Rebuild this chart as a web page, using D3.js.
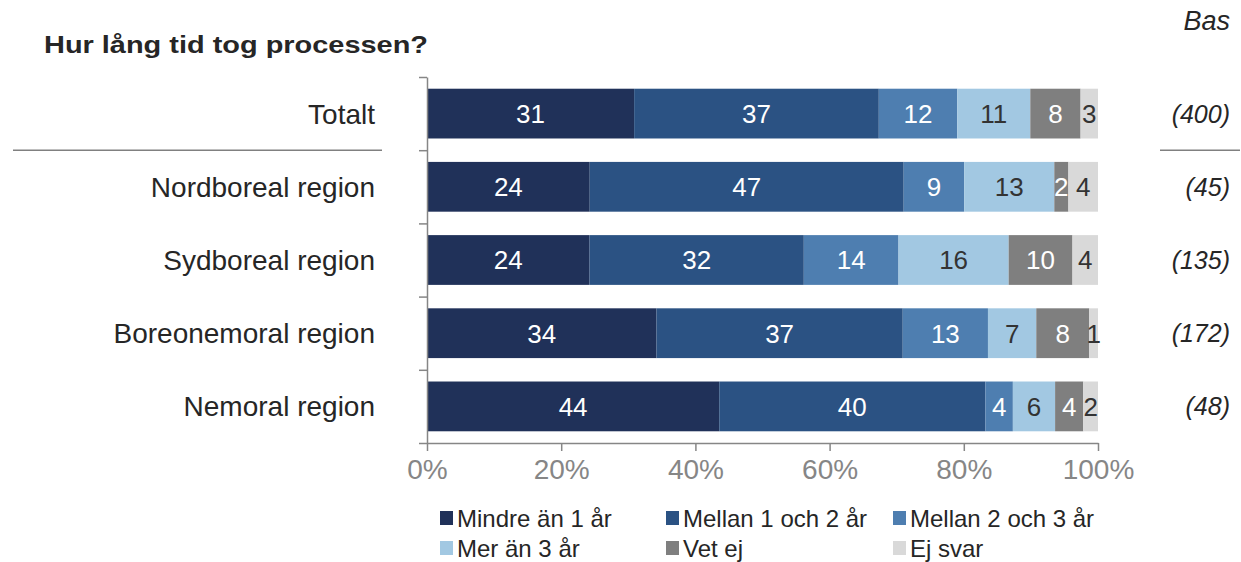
<!doctype html>
<html lang="sv">
<head>
<meta charset="utf-8">
<title>Hur lång tid tog processen?</title>
<style>
  body { margin: 0; background: #fff; }
  svg { display: block; font-family: "Liberation Sans", Arial, sans-serif; }
  .axis path, .axis line { stroke: #868686; stroke-width: 1.5px; }
  .axis text { fill: #868686; }
</style>
</head>
<body>
<svg width="1241" height="562"></svg>
<script src="https://cdn.jsdelivr.net/npm/d3@7"></script>
<script>

// data
var categories = ["Totalt", "Nordboreal region", "Sydboreal region", "Boreonemoral region", "Nemoral region"];
var bases = ["(400)", "(45)", "(135)", "(172)", "(48)"];
var seriesNames = ["Mindre än 1 år", "Mellan 1 och 2 år", "Mellan 2 och 3 år", "Mer än 3 år", "Vet ej", "Ej svar"];
var mindre1 = [30.9, 24.2, 24.2, 34.2, 43.6];
var mellan12 = [36.5, 46.7, 31.9, 36.7, 39.7];
var mellan23 = [11.7, 9.0, 14.1, 12.7, 4.1];
var mer3 = [10.9, 13.4, 16.4, 7.2, 6.3];
var vetEj = [7.5, 2.1, 9.5, 7.9, 4.2];
var ejSvar = [2.6, 4.4, 3.8, 1.3, 2.2];
var xTicks = [0, 0.2, 0.4, 0.6, 0.8, 1];

var colors = ["#203159", "#2b5283", "#4e7eb0", "#a2c8e2", "#7f7f7f", "#d9d9d9"];
var labelColors = ["#fff", "#fff", "#fff", "#333", "#fff", "#333"];

var seriesValues = [mindre1, mellan12, mellan23, mer3, vetEj, ejSvar];
var rows = categories.map(function(c, i) {
  var r = { cat: c };
  seriesNames.forEach(function(s, j) { r[s] = seriesValues[j][i]; });
  return r;
});

var svg = d3.select("svg");

var x = d3.scaleLinear().domain([0, 1]).range([427, 1098]);
var y = d3.scaleBand().domain(categories).range([77, 443]).paddingInner(0.32).paddingOuter(0.16);
var yEdge = d3.scaleLinear().domain([0, categories.length]).range([77, 443]);
var z = d3.scaleOrdinal().domain(seriesNames).range(colors);

var stack = d3.stack().keys(seriesNames).offset(d3.stackOffsetExpand);
var layers = stack(rows);

// title
svg.append("text")
    .attr("x", 44).attr("y", 53)
    .attr("textLength", 384).attr("lengthAdjust", "spacingAndGlyphs")
    .style("font-size", "24px").style("font-weight", "bold").style("fill", "#262626")
    .text("Hur lång tid tog processen?");

svg.append("text")
    .attr("x", 1230).attr("y", 30)
    .attr("text-anchor", "end")
    .style("font-size", "27px").style("font-style", "italic").style("fill", "#262626")
    .text("Bas");

// bars
var layer = svg.selectAll(".layer")
  .data(layers)
  .enter().append("g")
    .attr("class", "layer")
    .attr("fill", function(d) { return z(d.key); });

layer.selectAll("rect")
  .data(function(d) { return d; })
  .enter().append("rect")
    .attr("x", function(d) { return x(d[0]); })
    .attr("y", function(d) { return y(d.data.cat); })
    .attr("width", function(d) { return x(d[1]) - x(d[0]); })
    .attr("height", y.bandwidth());

layer.each(function(l, j) {
  d3.select(this).selectAll("text")
    .data(l)
    .enter().append("text")
      .attr("x", function(d) { return (x(d[0]) + x(d[1])) / 2; })
      .attr("y", function(d) { return y(d.data.cat) + y.bandwidth() / 2; })
      .attr("dy", "0.36em")
      .attr("text-anchor", "middle")
      .style("font-size", "26px")
      .style("fill", labelColors[j])
      .text(function(d) { return Math.round(d.data[l.key]); });
});

// axes
svg.append("g")
    .attr("class", "axis axis--y")
    .attr("transform", "translate(" + x(0) + ",0)")
    .call(d3.axisLeft(yEdge).ticks(categories.length).tickSizeInner(8).tickSizeOuter(0).tickFormat(""));

svg.append("g")
    .attr("class", "axis axis--x")
    .attr("transform", "translate(0,443)")
    .call(d3.axisBottom(x).tickValues(xTicks).tickSizeInner(8).tickSizeOuter(0).tickPadding(8).tickFormat(d3.format(".0%")))
    .selectAll("text")
    .style("font-size", "28px");

// category labels
svg.selectAll(".cat")
  .data(categories)
  .enter().append("text")
    .attr("class", "cat")
    .attr("x", 375)
    .attr("y", function(d) { return y(d) + y.bandwidth() / 2; })
    .attr("dy", "0.36em")
    .attr("text-anchor", "end")
    .style("font-size", "28px")
    .style("fill", "#262626")
    .text(function(d) { return d; });

// base column
svg.selectAll(".bas")
  .data(bases)
  .enter().append("text")
    .attr("class", "bas")
    .attr("x", 1230)
    .attr("y", function(d, i) { return y(categories[i]) + y.bandwidth() / 2; })
    .attr("dy", "0.36em")
    .attr("text-anchor", "end")
    .style("font-size", "25px")
    .style("font-style", "italic")
    .style("fill", "#262626")
    .text(function(d) { return d; });

// separators under Totalt
var sepY = yEdge(1);
svg.append("line").attr("x1", 13).attr("x2", 382).attr("y1", sepY).attr("y2", sepY)
    .style("stroke", "#808080").style("stroke-width", 1.5);
svg.append("line").attr("x1", 1160).attr("x2", 1240).attr("y1", sepY).attr("y2", sepY)
    .style("stroke", "#808080").style("stroke-width", 1.5);

// legend
var legendX = [440, 666, 893];
var legendY = [518, 548];
var legend = svg.selectAll(".legend")
  .data(seriesNames)
  .enter().append("g")
    .attr("class", "legend")
    .attr("transform", function(d, i) { return "translate(" + legendX[i % 3] + "," + legendY[Math.floor(i / 3)] + ")"; });

legend.append("rect")
    .attr("x", 0).attr("y", -7)
    .attr("width", 13).attr("height", 14)
    .attr("fill", function(d) { return z(d); });

legend.append("text")
    .attr("x", 17)
    .attr("dy", "0.36em")
    .style("font-size", "24px")
    .style("fill", "#262626")
    .text(function(d) { return d; });

</script>
</body>
</html>
